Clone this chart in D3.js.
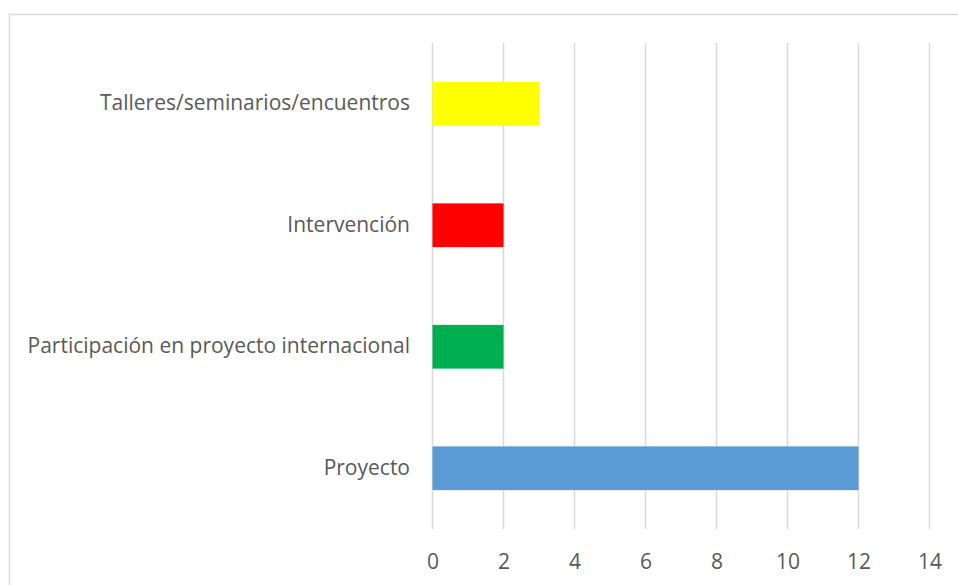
<!DOCTYPE html>
<html>
<head>
<meta charset="utf-8">
<script src="https://cdn.jsdelivr.net/npm/d3@7"></script>
<style>
    body { margin: 0; background: #fff; }
    text { font-family: "Open Sans", "Liberation Sans", sans-serif; fill: #595959; }
</style>
</head>
<body>
<div id="chart"></div>
<script>
    var categories = ["Talleres/seminarios/encuentros", "Intervención", "Participación en proyecto internacional", "Proyecto"];
    var values = [3, 2, 2, 12];
    var barColors = ["#ffff00", "#ff0000", "#00b050", "#5b9bd5"];
    var xTicks = [0, 2, 4, 6, 8, 10, 12, 14];

    var width = 958, height = 585;
    var plot = { left: 432.5, right: 929.5, top: 43, bottom: 529 };

    var svg = d3.select("#chart")
        .append("svg:svg")
        .attr("width", width)
        .attr("height", height);

    // chart frame, runs off the right and bottom edges
    svg.append("rect")
        .attr("x", 9.5)
        .attr("y", 14.5)
        .attr("width", 960)
        .attr("height", 600)
        .attr("fill", "none")
        .attr("stroke", "#d9d9d9")
        .attr("stroke-width", 1.5);

    var x = d3.scaleLinear().domain([0, 14]).range([plot.left, plot.right]);
    var y = d3.scaleBand()
        .domain(categories)
        .range([plot.top, plot.bottom])
        .paddingInner(0.64)
        .paddingOuter(0.32);

    svg.append("g")
        .selectAll("line")
        .data(xTicks)
        .enter().append("line")
        .attr("x1", function (d) { return x(d); })
        .attr("x2", function (d) { return x(d); })
        .attr("y1", plot.top)
        .attr("y2", plot.bottom)
        .attr("stroke", "#d9d9d9")
        .attr("stroke-width", 1.5);

    svg.append("g")
        .selectAll("rect")
        .data(categories)
        .enter().append("rect")
        .attr("x", x(0))
        .attr("y", function (d) { return y(d); })
        .attr("width", function (d, i) { return x(values[i]) - x(0); })
        .attr("height", y.bandwidth())
        .attr("fill", function (d, i) { return barColors[i]; });

    var xAxis = d3.axisBottom(x).tickValues(xTicks).tickSize(0).tickPadding(0);
    var gx = svg.append("g")
        .attr("transform", "translate(0," + 562 + ")")
        .call(xAxis);
    gx.select(".domain").remove();
    gx.selectAll("text")
        .attr("dy", "0.35em")
        .attr("font-size", 21)
        .style("font-family", null);

    var yAxis = d3.axisLeft(y).tickSize(0).tickPadding(0);
    var gy = svg.append("g")
        .attr("transform", "translate(" + 410 + ",0)")
        .call(yAxis);
    gy.select(".domain").remove();
    gy.selectAll("text")
        .attr("font-size", 21)
        .style("font-family", null);
</script>
</body>
</html>
